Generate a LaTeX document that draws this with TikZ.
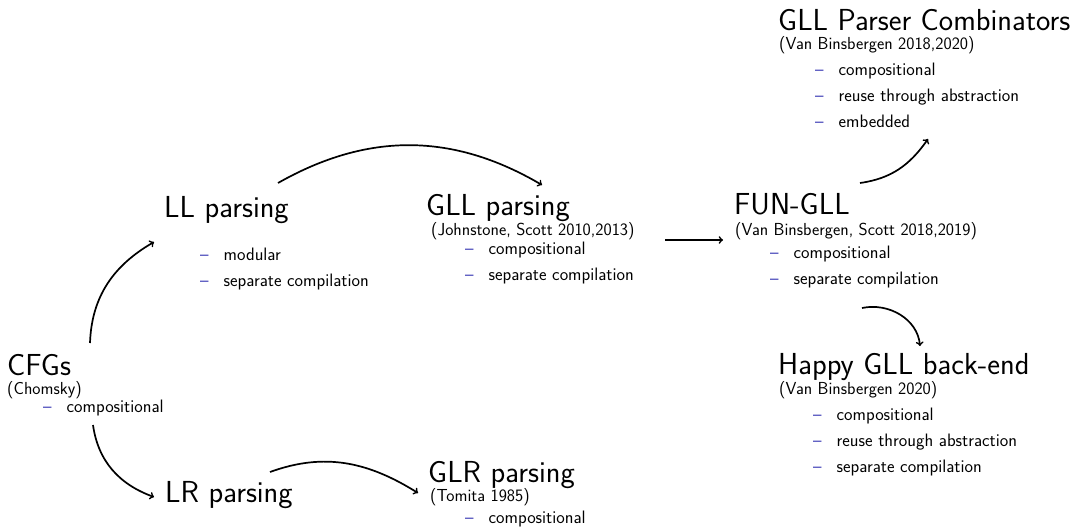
\documentclass[tikz,border=0pt]{standalone}
\usepackage{fontspec}
\definecolor{itemblue}{RGB}{51,51,178}
\newcommand{\entry}[1]{\makebox[23.5pt][l]{\textcolor{itemblue}{\textendash}}#1}
\begin{document}
\begin{tikzpicture}[x=1pt,y=1pt,
  title/.style={anchor=base west,inner sep=0pt,font=\sffamily\fontsize{30.4}{32}\selectfont},
  source/.style={anchor=base west,inner sep=0pt,font=\sffamily\fontsize{17.4}{19}\selectfont},
  point/.style={anchor=base west,inner sep=0pt,font=\sffamily\fontsize{18}{20}\selectfont},
  link/.style={->,line width=1.7pt}]
\useasboundingbox (0,0) rectangle (1076,-527);

% Context-free grammars
\node[title]  (cfg)    at (7,-375)   {CFGs};
\node[source] (cfgsrc) at (7,-394)   {(Chomsky)};
\node[point]  (cfgp1)  at (43,-412)  {\entry{compositional}};

% LL parsing
\node[title]  (ll)     at (164,-217) {LL parsing};
\node[point]  (llp1)   at (200,-260) {\entry{modular}};
\node[point]  (llp2)   at (200,-286) {\entry{separate compilation}};

% LR parsing
\node[title]  (lr)     at (165,-502) {LR parsing};

% GLL parsing
\node[title]  (gll)    at (426,-215) {GLL parsing};
\node[source] (gllsrc) at (431,-235) {(Johnstone, Scott 2010,2013)};
\node[point]  (gllp1)  at (465,-254) {\entry{compositional}};
\node[point]  (gllp2)  at (465,-280) {\entry{separate compilation}};

% GLR parsing
\node[title]  (glr)    at (428,-482) {GLR parsing};
\node[source] (glrsrc) at (430,-501) {(Tomita 1985)};
\node[point]  (glrp1)  at (465,-523) {\entry{compositional}};

% FUN-GLL
\node[title]  (fun)    at (734,-214) {FUN-GLL};
\node[source] (funsrc) at (735,-235) {(Van Binsbergen, Scott 2018,2019)};
\node[point]  (funp1)  at (770,-258) {\entry{compositional}};
\node[point]  (funp2)  at (770,-284) {\entry{separate compilation}};

% GLL parser combinators
\node[title]  (comb)    at (778,-31)  {GLL Parser Combinators};
\node[source] (combsrc) at (779,-50)  {(Van Binsbergen 2018,2020)};
\node[point]  (combp1)  at (815,-75)  {\entry{compositional}};
\node[point]  (combp2)  at (815,-101) {\entry{reuse through abstraction}};
\node[point]  (combp3)  at (815,-127) {\entry{embedded}};

% Happy GLL back-end
\node[title]  (happy)    at (778,-374) {Happy GLL back-end};
\node[source] (happysrc) at (779,-394) {(Van Binsbergen 2020)};
\node[point]  (happyp1)  at (813,-420) {\entry{compositional}};
\node[point]  (happyp2)  at (813,-446) {\entry{reuse through abstraction}};
\node[point]  (happyp3)  at (813,-472) {\entry{separate compilation}};

% connector end points
\coordinate (cfg-up)    at (90,-343);
\coordinate (ll-in)     at (154,-242);
\coordinate (cfg-down)  at (93,-425);
\coordinate (lr-in)     at (154,-497);
\coordinate (ll-out)    at (278,-183);
\coordinate (gll-in)    at (542,-185);
\coordinate (lr-out)    at (270,-472);
\coordinate (glr-in)    at (418,-493);
\coordinate (gll-out)   at (665,-240);
\coordinate (fun-in)    at (723,-240);
\coordinate (fun-up)    at (860,-183);
\coordinate (comb-in)   at (928,-139);
\coordinate (fun-down)  at (862,-308);
\coordinate (happy-in)  at (920,-346);

\draw[link] (cfg-up)   to[out=88,in=210]  (ll-in);
\draw[link] (cfg-down) to[out=-82,in=160] (lr-in);
\draw[link] (ll-out)   to[bend left=30]   (gll-in);
\draw[link] (lr-out)   to[out=20,in=148]  (glr-in);
\draw[link] (gll-out)  --                 (fun-in);
\draw[link] (fun-up)   to[out=8,in=235]   (comb-in);
\draw[link] (fun-down) to[out=12,in=95]   (happy-in);
\end{tikzpicture}
\end{document}
